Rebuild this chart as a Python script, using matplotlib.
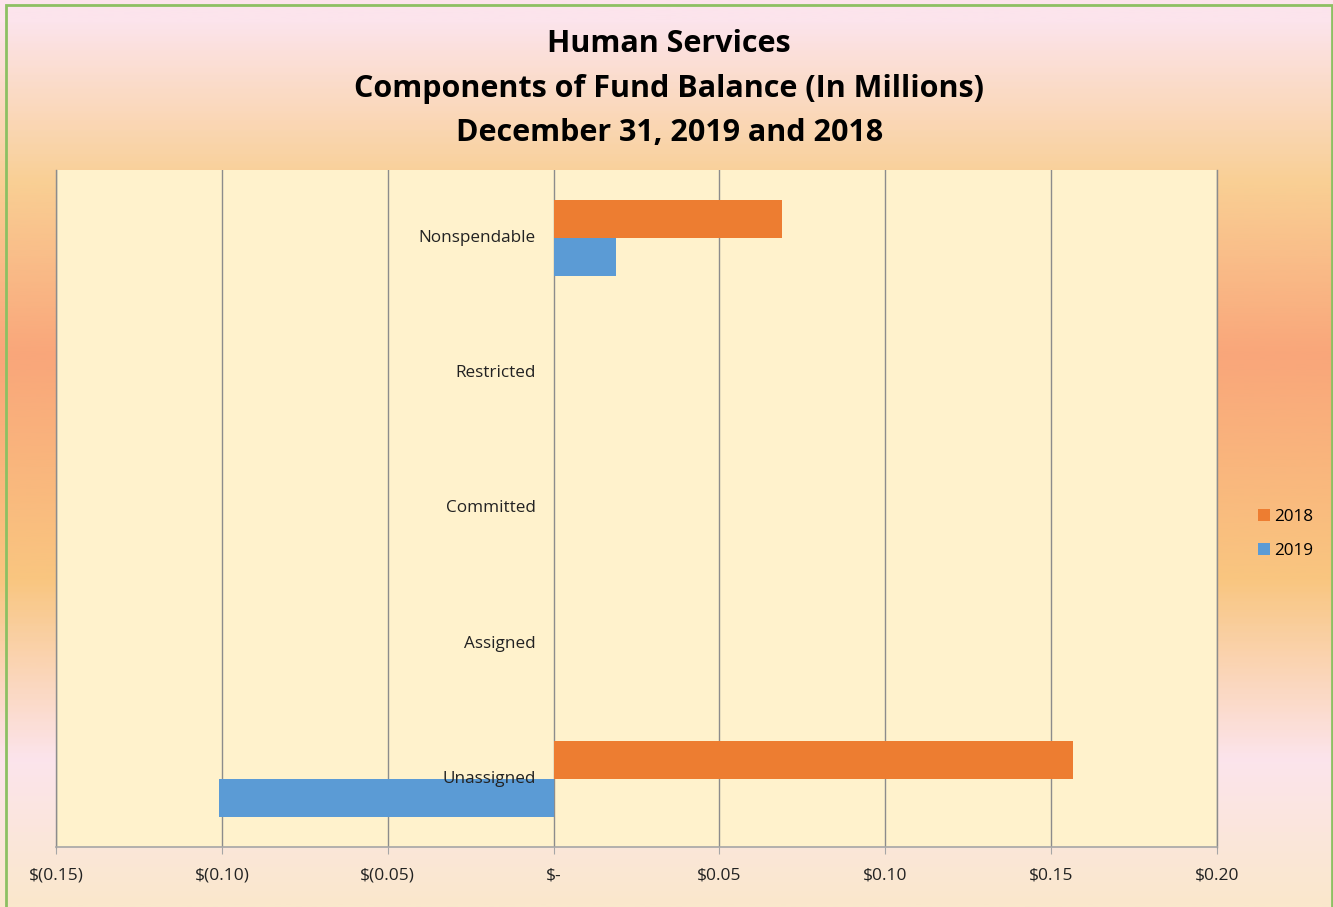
import matplotlib.pyplot as plt
import numpy as np
from matplotlib.colors import LinearSegmentedColormap
from matplotlib.patches import Rectangle

# Data (in millions)
categories = ['Nonspendable', 'Restricted', 'Committed', 'Assigned', 'Unassigned']
values_2018 = [0.069, 0.0, 0.0, 0.0, 0.1565]
values_2019 = [0.0187, 0.0, 0.0, 0.0, -0.101]
xticks = [-0.15, -0.10, -0.05, 0.0, 0.05, 0.10, 0.15, 0.20]
xtick_labels = ['$(0.15)', '$(0.10)', '$(0.05)', '$-', '$0.05', '$0.10', '$0.15', '$0.20']

color_2018 = '#ED7D31'
color_2019 = '#5B9BD5'

plt.rcParams['font.family'] = ['Open Sans', 'DejaVu Sans']

W, H = 1333, 907
fig = plt.figure(figsize=(W / 100, H / 100), dpi=100)

# Gradient background (vertical), stops given as fraction from the top
stops = [(0.0, '#FCE4EC'), (0.02, '#FCE4EC'), (0.20, '#F9CF94'), (0.39, '#F9A67A'),
         (0.64, '#F9C680'), (0.84, '#FCE4EC'), (1.0, '#FAE8CC')]
cmap = LinearSegmentedColormap.from_list('bg', stops)
bg = fig.add_axes([0, 0, 1, 1], zorder=-10)
bg.imshow(np.linspace(0, 1, 400).reshape(-1, 1), aspect='auto', cmap=cmap,
          extent=[0, 1, 0, 1], origin='upper')
# green chart border (bottom edge falls outside the image)
bg.add_patch(Rectangle((6 / W, -0.01), (1332 - 6) / W, (H - 5) / H + 0.01, fill=False,
                       edgecolor='#8DC063', linewidth=2, transform=bg.transAxes))
bg.set_xlim(0, 1)
bg.set_ylim(0, 1)
bg.axis('off')

# Plot area
left, right, top, bottom = 56, 1217, 170, 847
ax = fig.add_axes([left / W, 1 - bottom / H, (right - left) / W, (bottom - top) / H])
ax.set_facecolor('#FFF2CC')

y = np.arange(len(categories))
bar_h = 0.28
ax.barh(y - bar_h / 2, values_2018, height=bar_h, color=color_2018, label='2018', zorder=3)
ax.barh(y + bar_h / 2, values_2019, height=bar_h, color=color_2019, label='2019', zorder=3)

ax.set_xlim(-0.15, 0.20)
ax.set_ylim(len(categories) - 0.5, -0.5)
ax.set_xticks(xticks)
ax.set_xticklabels(xtick_labels, fontsize=12.5, color='#222222')
ax.tick_params(axis='x', length=5, color='#A6A6A6', pad=10)
ax.set_yticks([])
ax.grid(axis='x', color='#8C8C8C', linewidth=1, zorder=1)

ax.spines['top'].set_visible(False)
for s in ['left', 'right']:
    ax.spines[s].set_color('#8C8C8C')
    ax.spines[s].set_linewidth(1)
ax.spines['bottom'].set_color('#A6A6A6')
ax.spines['bottom'].set_linewidth(1.2)

# Category labels next to the zero axis
for i, cat in enumerate(categories):
    ax.annotate(cat, xy=(0, i), xytext=(-13, 0), textcoords='offset points',
                ha='right', va='center', fontsize=12.3, color='#222222', zorder=5)

# Title
title_lines = ['Human Services', 'Components of Fund Balance (In Millions)',
               'December 31, 2019 and 2018']
for line, ypx in zip(title_lines, [44, 89, 133]):
    fig.text(0.502, 1 - ypx / H, line, ha='center', va='center',
             fontsize=22, fontweight='bold', color='black')

# Legend
leg = fig.legend(loc='center left', bbox_to_anchor=(1243 / W, 1 - 534 / H), frameon=False,
                 fontsize=12.3, handlelength=0.7, handleheight=0.7, handletextpad=0.2,
                 labelspacing=1.0)

fig.savefig('out.png', dpi=100)
